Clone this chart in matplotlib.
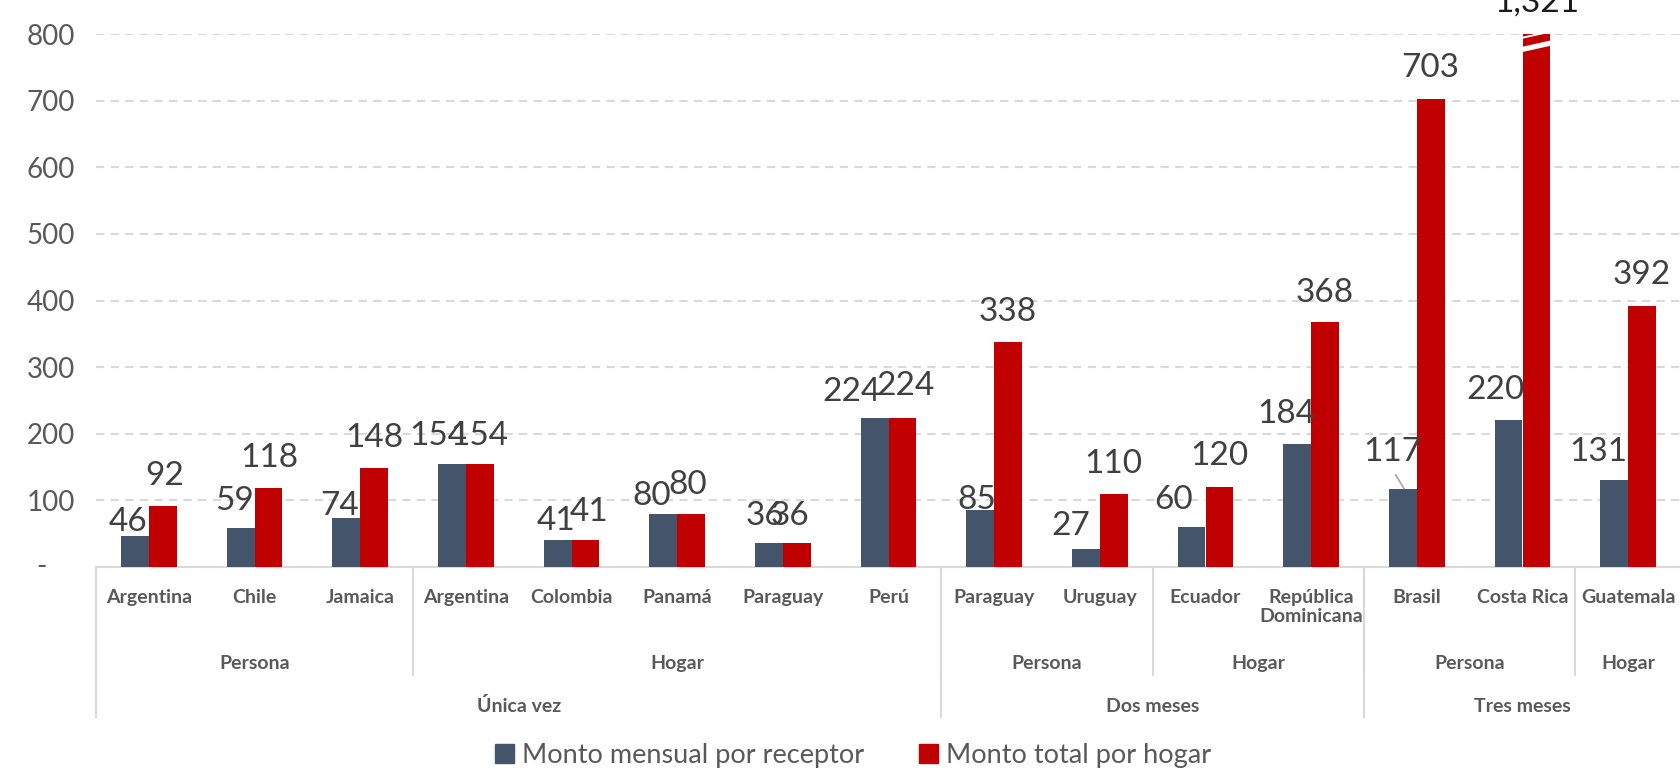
import matplotlib
matplotlib.use('Agg')
import matplotlib.pyplot as plt
from matplotlib.patches import Patch, Polygon
import matplotlib.transforms as mtransforms

plt.rcParams['font.family'] = ['Lato', 'DejaVu Sans']

# datos
paises = ['Argentina', 'Chile', 'Jamaica', 'Argentina', 'Colombia', 'Panamá', 'Paraguay', 'Perú',
          'Paraguay', 'Uruguay', 'Ecuador', 'República\nDominicana', 'Brasil', 'Costa Rica', 'Guatemala']
nivel2 = ['Persona', 'Hogar', 'Persona', 'Hogar', 'Persona', 'Hogar']
nivel2_n = [3, 5, 2, 2, 2, 1]
nivel3 = ['Única vez', 'Dos meses', 'Tres meses']
nivel3_n = [8, 4, 3]

mensual = [46, 59, 74, 154, 41, 80, 36, 224, 85, 27, 60, 184, 117, 220, 131]
total = [92, 118, 148, 154, 41, 80, 36, 224, 338, 110, 120, 368, 703, 1321, 392]

serie1 = 'Monto mensual por receptor'
serie2 = 'Monto total por hogar'

# posicion de etiquetas (ajustes a mano como en el original)
dy_azul = [21, 40, 18, 42, 28, 26, 40, 39, 15, 34, 40, 46, 55, 46, 41]
dx_azul = [-7, -6, -7, -14, -2, -12, -4, -23, -4, -15, -18, -11, -11, -13, -16]
dy_rojo = [44, 45, 45, 42, 42, 43, 40, 47, 45, 45, 46, 44, 46, 48, 46]
dx_rojo = [2, 1, 0, 0, 4, -3, -7, 3, 0, 0, 0, 0, 0, 0, 0]

azul = '#44546A'
rojo = '#C00000'
gris = '#595959'
linea = '#D9D9D9'

W, H = 1680, 769
fig = plt.figure(figsize=(W / 100, H / 100), dpi=100)
ax = fig.add_axes([96 / W, 1 - 566.8 / H, (1681 - 96) / W, 532.5 / H])

ymax = 800
n = len(paises)
w = 0.263
x = list(range(n))
ax.bar([i - w / 2 for i in x], mensual, w, color=azul, zorder=3)
ax.bar([i + w / 2 for i in x], total, w, color=rojo, zorder=3)
ax.set_xlim(-0.5, n - 0.5)
ax.set_ylim(0, ymax)

px = 105.7  # pixeles por categoria
for i in x:
    ax.text(i - w / 2 + dx_azul[i] / px, mensual[i] + dy_azul[i], f'{mensual[i]:,}',
            ha='center', va='center', fontsize=24, color='#404040', zorder=5)
    yv = min(total[i], ymax)
    col = '#404040' if total[i] <= ymax else '#1a1a1a'
    ax.text(i + w / 2 + dx_rojo[i] / px, yv + dy_rojo[i], f'{total[i]:,}',
            ha='center', va='center', fontsize=24, color=col, zorder=5)
    if total[i] > ymax:
        # corte del eje en la barra
        xl, xr = i - 0.01, i + w + 0.01
        ax.add_patch(Polygon([(xl, 773), (xr, 783), (xr, 791), (xl, 781)],
                             closed=True, color='white', zorder=4, lw=0))
        ax.add_patch(Polygon([(xl, 793), (xr, 803), (xr, 806), (xl, 796)],
                             closed=True, color='white', zorder=4, lw=0))

# linea guia de Brasil
ib = paises.index('Brasil')
ax.plot([ib - 0.2, ib - 0.123], [mensual[ib] + 21, mensual[ib] + 1], color='#A6A6A6', lw=1.2, zorder=5)

# ejes y grilla
ax.set_yticks(range(100, ymax + 1, 100))
ax.set_yticklabels([f'{v:,}' for v in range(100, ymax + 1, 100)])
ax.tick_params(axis='y', length=0, pad=15, labelsize=20, labelcolor=gris)
ax.tick_params(axis='x', length=0, labelbottom=False)
ax.yaxis.grid(True, color=linea, linestyle=(0, (4, 3)), lw=1.5, zorder=0)
for s in ['top', 'right', 'left']:
    ax.spines[s].set_visible(False)
ax.spines['bottom'].set_color(linea)
ax.spines['bottom'].set_linewidth(1.5)
ax.text(41 / W, 1 - 566.8 / H, '-', transform=fig.transFigure, ha='center', va='center',
        fontsize=20, color=gris)

# etiquetas jerarquicas
tr = mtransforms.blended_transform_factory(ax.transData, ax.transAxes)
for i, p in enumerate(paises):
    ax.text(i, -0.042, p, transform=tr, ha='center', va='top', fontsize=14,
            fontweight='bold', color=gris, linespacing=1.15)

y2, y3 = -0.203, -0.282
ax.plot([-0.5, -0.5], [0, y3], transform=tr, color=linea, lw=1.5, clip_on=False)
pos = 0
for lab, k in zip(nivel2, nivel2_n):
    ax.text(pos + k / 2 - 0.5, -0.181, lab, transform=tr, ha='center', va='center',
            fontsize=14, fontweight='bold', color=gris)
    pos += k
    if pos < n:
        ax.plot([pos - 0.5, pos - 0.5], [0, y2], transform=tr, color=linea, lw=1.5, clip_on=False)
pos = 0
for lab, k in zip(nivel3, nivel3_n):
    ax.text(pos + k / 2 - 0.5, -0.262, lab, transform=tr, ha='center', va='center',
            fontsize=14, fontweight='bold', color=gris)
    pos += k
    if pos < n:
        ax.plot([pos - 0.5, pos - 0.5], [0, y3], transform=tr, color=linea, lw=1.5, clip_on=False)

handles = [Patch(color=azul, label=serie1), Patch(color=rojo, label=serie2)]
fig.legend(handles=handles, loc='center', bbox_to_anchor=(853 / W, 1 - 755 / H), ncol=2,
           frameon=False, fontsize=19.5, labelcolor=gris, handlelength=0.7, handleheight=0.7,
           handletextpad=0.3, columnspacing=2.0)

fig.savefig('out.png', dpi=100)
